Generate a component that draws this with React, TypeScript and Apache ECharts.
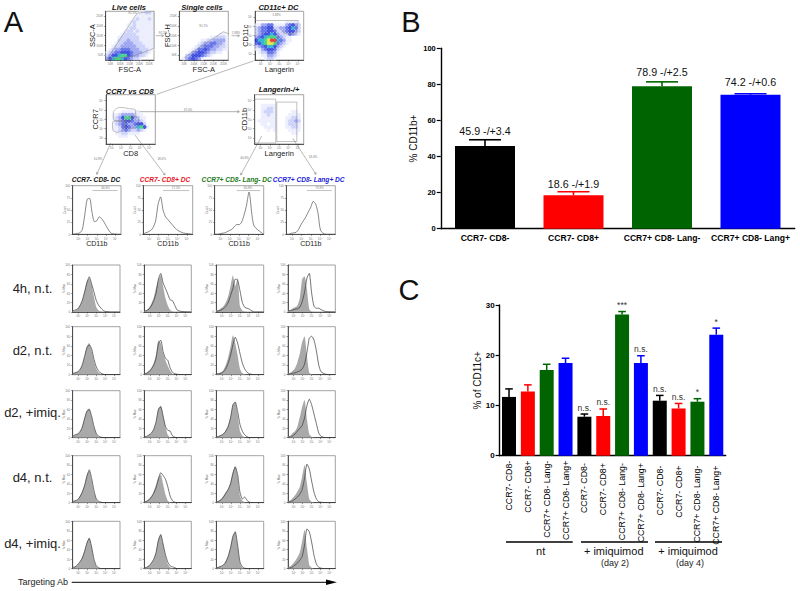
import React, { useEffect, useRef } from "react";
import * as echarts from "echarts";

/* ---------- data: panel B ---------- */
const catsB = ["CCR7- CD8-", "CCR7- CD8+", "CCR7+ CD8- Lang-", "CCR7+ CD8- Lang+"];
const valuesB = [45.9, 18.6, 78.9, 74.2];
const errTopB = [49.3, 20.5, 81.4, 74.8];
const labelsB = ["45.9 -/+3.4", "18.6 -/+1.9", "78.9 -/+2.5", "74.2 -/+0.6"];

/* ---------- data: panel C ---------- */
const catsC = [
  "CCR7- CD8-", "CCR7- CD8+", "CCR7+ CD8- Lang-", "CCR7+ CD8- Lang+",
  "CCR7- CD8- ", "CCR7- CD8+ ", "CCR7+ CD8- Lang- ", "CCR7+ CD8- Lang+ ",
  "CCR7- CD8-  ", "CCR7- CD8+  ", "CCR7+ CD8- Lang-  ", "CCR7+ CD8- Lang+  ",
];
const valuesC = [11.7, 12.8, 17.05, 18.45, 7.76, 7.9, 28.1, 18.45, 10.95, 9.4, 10.75, 24.1];
const errTopC = [13.3, 14.1, 18.2, 19.4, 8.3, 9.3, 28.7, 19.9, 12.0, 10.4, 11.35, 25.4];
const sigC = ["", "", "", "", "n.s.", "n.s.", "***", "n.s.", "n.s.", "n.s.", "*", "*"];
const barColors = ["#000000", "#ff0000", "#006400", "#0000ff"];

/* ---------- data: panel A density maps (rows top to bottom, digit = density level) ---------- */
const densityLive = [
  "0000000000011221", "0000000000111111", "0000000001211121", "0000000012111111",
  "0000000112111111", "0000000122111111", "0000001221211111", "0000012222111111",
  "0000122222211111", "0000222322211111", "0001223332221111", "0012233333222111",
  "0123344433322211", "1234455543332210", "2355677543322100", "3567765432210000",
];
const densitySingle = [
  "0000000000000000", "0000000000000000", "0000000000000000", "0000000000000000",
  "0000000000000000", "0000000000000000", "0000000000000000", "0000000000000110",
  "0000000000112221", "0000000112233331", "0000001233443321", "0000012344433221",
  "0000124454332211", "0001345543221100", "0023555432100000", "0134543100000000",
];
const densityCd11c = [
  "0000000000000000", "0000000000000000", "0000000000000000", "0000000000111100",
  "1133441111345320", "2344552233456420", "2344554223455320", "2345565322243210",
  "3456777432110000", "5667899643110000", "4567887432100000", "2345665321000000",
  "1134554210000000", "0122443100000000", "0011332100000000", "0001221000000000",
];
const densityCcr7 = [
  "0000000000000000", "0000000000000000", "0000000000000000", "0000000000000000",
  "0000000000000000", "0000011111100000", "0011233332110000", "0012357753211000",
  "0012345543321000", "0012344334552000", "0011245433675100", "0011234322321000",
  "0001122111100000", "0000111000000000", "0000000000000000", "0000000000000000",
];
const densityLang = [
  "0000000000000000", "0000000000000000", "0000000000000000", "0011111000000000",
  "0011221000000000", "0012221000001100", "0011211000011110", "0011111000112210",
  "0111111000122320", "0011011000122210", "0001111000112210", "0000101000011110",
  "0000000000001100", "0000000000000000", "0000000000000000", "0000000000000000",
];
const gateLive = [[2, 1], [65, 96], [100, 100], [100, 24], [57, 8], [2, 1]];
const gateSingle = [[10, 5], [90, 58], [100, 54]];
const gateCd11c = [[1, 81], [89, 81], [84, 53], [60, 55], [55, 62]];
const gateCcr7Top = [[15, 66], [28, 74], [45, 72], [60, 68], [58, 56], [42, 46], [22, 46], [15, 54], [15, 66]];
const gateCcr7Left = [[15, 46], [28, 48], [38, 40], [34, 28], [22, 24], [14, 30], [13, 40], [15, 46]];
const gateCcr7Right = [[38, 44], [52, 56], [66, 52], [65, 38], [50, 32], [38, 36], [38, 44]];
const gateLangLeft = [[0, 91], [43, 91], [43, 2], [0, 2], [0, 91]];
const gateLangRight = [[45, 85], [86, 85], [86, 5], [45, 5], [45, 85]];

/* ---------- data: panel A histograms ---------- */
const histX = [0, 5, 10, 15, 20, 25, 30, 35, 40, 45, 50, 55, 60, 65, 70, 80, 100];
const cd11bC1 = [0, 1, 2, 3, 10, 40, 72, 74, 45, 26, 28, 36, 32, 25, 16, 2, 0];
const cd11bC2 = [1, 3, 5, 8, 14, 28, 62, 77, 50, 36, 30, 24, 18, 12, 8, 3, 0];
const cd11bC3 = [0, 0, 1, 2, 3, 5, 8, 10, 16, 20, 20, 25, 40, 60, 87, 18, 0];
const cd11bC4 = [0, 0, 2, 3, 4, 10, 20, 28, 36, 46, 56, 68, 62, 42, 8, 0, 0];
const cd11bGateC1 = [[41, 90], [93, 90]];
const cd11bGateC2 = [[40, 90], [93, 90]];
const cd11bGateC3 = [[45, 90], [93, 90]];
const cd11bGateC4 = [[42, 90], [93, 90]];

const fill4hC1 = [2, 3, 6, 14, 24, 44, 66, 72, 58, 32, 10, 3, 1, 0, 0, 0, 0];
const line4hC1 = [3, 4, 6, 13, 24, 42, 62, 75, 60, 42, 24, 14, 8, 3, 1, 0, 0];
const fill4hC2 = [2, 4, 9, 18, 30, 52, 68, 78, 55, 30, 14, 4, 1, 0, 0, 0, 0];
const line4hC2 = [2, 3, 6, 13, 24, 40, 70, 82, 62, 50, 38, 26, 24, 14, 4, 1, 0];
const fill4hC3 = [4, 5, 8, 12, 20, 33, 55, 78, 55, 72, 12, 3, 1, 0, 0, 0, 0];
const line4hC3 = [2, 2, 4, 7, 12, 20, 35, 50, 70, 68, 45, 20, 10, 8, 6, 0, 0];
const fill4hC4 = [3, 4, 8, 10, 14, 30, 70, 76, 48, 6, 1, 0, 0, 0, 0, 0, 0];
const line4hC4 = [2, 3, 4, 6, 7, 10, 22, 42, 72, 82, 40, 12, 8, 8, 5, 1, 0];

const fillD2nC1 = [3, 4, 6, 10, 20, 38, 60, 66, 50, 28, 12, 4, 1, 0, 0, 0, 0];
const lineD2nC1 = [3, 4, 6, 10, 20, 38, 56, 62, 54, 32, 16, 7, 3, 1, 0, 0, 0];
const fillD2nC2 = [2, 4, 8, 14, 24, 42, 72, 66, 44, 30, 18, 8, 2, 0, 0, 0, 0];
const lineD2nC2 = [2, 3, 6, 12, 20, 34, 64, 72, 48, 34, 30, 14, 5, 2, 1, 0, 0];
const fillD2nC3 = [2, 3, 5, 10, 20, 36, 58, 82, 66, 40, 12, 3, 1, 0, 0, 0, 0];
const lineD2nC3 = [2, 2, 3, 6, 12, 24, 40, 62, 78, 66, 44, 24, 12, 5, 2, 0, 0];
const fillD2nC4 = [2, 4, 8, 14, 26, 44, 68, 80, 40, 4, 1, 0, 0, 0, 0, 0, 0];
const lineD2nC4 = [1, 2, 3, 4, 6, 8, 12, 22, 46, 76, 80, 72, 50, 20, 6, 1, 0];

const fillD2iC1 = [3, 6, 8, 12, 24, 42, 58, 62, 44, 22, 8, 2, 0, 0, 0, 0, 0];
const lineD2iC1 = [3, 6, 8, 12, 22, 40, 56, 60, 46, 24, 9, 3, 1, 0, 0, 0, 0];
const fillD2iC2 = [2, 3, 6, 10, 18, 34, 62, 68, 48, 24, 6, 1, 0, 0, 0, 0, 0];
const lineD2iC2 = [2, 3, 6, 10, 18, 34, 60, 66, 46, 24, 16, 14, 4, 1, 0, 0, 0];
const fillD2iC3 = [2, 3, 5, 9, 16, 26, 44, 70, 76, 50, 14, 4, 1, 0, 0, 0, 0];
const lineD2iC3 = [2, 3, 5, 8, 14, 24, 42, 70, 76, 56, 28, 14, 6, 2, 0, 0, 0];
const fillD2iC4 = [2, 4, 10, 14, 24, 44, 66, 80, 40, 8, 2, 0, 0, 0, 0, 0, 0];
const lineD2iC4 = [1, 2, 4, 8, 14, 20, 26, 42, 68, 82, 70, 50, 30, 10, 3, 0, 0];

const fillD4nC1 = [3, 4, 6, 14, 24, 38, 60, 68, 48, 22, 7, 2, 0, 0, 0, 0, 0];
const lineD4nC1 = [3, 4, 6, 12, 22, 36, 56, 70, 52, 26, 8, 3, 1, 0, 0, 0, 0];
const fillD4nC2 = [2, 4, 8, 14, 24, 38, 54, 60, 40, 18, 4, 1, 0, 0, 0, 0, 0];
const lineD4nC2 = [2, 3, 6, 12, 20, 32, 50, 64, 58, 50, 34, 14, 4, 1, 0, 0, 0];
const fillD4nC3 = [2, 4, 8, 14, 22, 30, 44, 66, 78, 56, 14, 4, 1, 0, 0, 0, 0];
const lineD4nC3 = [2, 3, 6, 12, 20, 28, 40, 62, 76, 60, 22, 8, 12, 5, 1, 0, 0];
const fillD4nC4 = [2, 5, 10, 16, 24, 34, 56, 80, 42, 8, 2, 0, 0, 0, 0, 0, 0];
const lineD4nC4 = [1, 2, 4, 8, 12, 18, 28, 52, 82, 72, 46, 22, 8, 2, 1, 0, 0];

const fillD4iC1 = [3, 4, 8, 14, 24, 38, 56, 66, 46, 18, 5, 1, 0, 0, 0, 0, 0];
const lineD4iC1 = [3, 4, 8, 14, 22, 36, 54, 64, 46, 20, 6, 2, 0, 0, 0, 0, 0];
const fillD4iC2 = [2, 3, 6, 12, 20, 36, 62, 72, 52, 28, 10, 3, 1, 0, 0, 0, 0];
const lineD4iC2 = [2, 3, 6, 12, 20, 34, 60, 72, 52, 30, 14, 6, 4, 2, 0, 0, 0];
const fillD4iC3 = [2, 4, 5, 8, 16, 28, 46, 70, 78, 48, 12, 2, 0, 0, 0, 0, 0];
const lineD4iC3 = [2, 3, 5, 8, 14, 26, 44, 68, 78, 50, 14, 4, 1, 0, 0, 0, 0];
const fillD4iC4 = [2, 5, 10, 16, 24, 34, 58, 82, 44, 8, 2, 0, 0, 0, 0, 0, 0];
const lineD4iC4 = [1, 2, 4, 8, 12, 18, 26, 50, 84, 78, 56, 28, 10, 3, 1, 0, 0];

const rowLabels = ["4h, n.t.", "d2, n.t.", "d2, +imiq.", "d4, n.t.", "d4, +imiq."];
const colTitles = ["CCR7- CD8- DC", "CCR7- CD8+ DC", "CCR7+ CD8- Lang- DC", "CCR7+ CD8- Lang+ DC"];
const colTitleColors = ["#111111", "#e8141c", "#1a7a1a", "#2222dd"];
const cd11bPct = ["46.6%", "17.5%", "80.8%", "73.9%"];
const logTickValues = [12, 31, 50, 69, 88];
const logTickLabels = ["10¹", "10²", "10³", "10⁴", "10⁵"];
const scaleTickValues = [10, 30, 50, 70, 90];
const scaleTickLabels = ["50K", "100K", "150K", "200K", "250K"];

/* ---------- styling ---------- */
const densityPalette = ["", "#e8ebfc", "#c4cbf7", "#8e99ef", "#4c5de4", "#1f30d8", "#12a6d0", "#28d070", "#e6e030", "#e02020"];
const FONT = '"Liberation Sans", Arial, sans-serif';
const histFill = "#a9a9a9";
const histLine = "#3a3a3a";

type Box = { l: number; r: number; t: number; b: number };

function App() {
  const ref = useRef<HTMLDivElement>(null);
  useEffect(() => {
    document.body.style.margin = "0";
    const chart = echarts.init(ref.current!, undefined, { renderer: "svg" });
    const grid: any[] = [];
    const xAxis: any[] = [];
    const yAxis: any[] = [];
    const series: any[] = [];
    const graphic: any[] = [];

    const addGrid = (b: Box, borderColor = "#8c8c8c") => {
      grid.push({
        left: b.l, top: b.t, width: b.r - b.l, height: b.b - b.t,
        show: true, borderColor, borderWidth: 0.8, backgroundColor: "transparent",
      });
      return grid.length - 1;
    };
    const miniAxis = (gridIndex: number, vals: number[], labels: string[], name: string, extra: any = {}) => ({
      gridIndex, type: "value", min: 0, max: 100, splitLine: { show: false },
      axisLine: { onZero: false, lineStyle: { color: "#333", width: 0.8 } },
      axisTick: { customValues: vals, length: 1.5, lineStyle: { color: "#333", width: 0.5 } },
      axisLabel: {
        customValues: vals, fontSize: 3, margin: 2.5, color: "#777", fontFamily: FONT, hideOverlap: false,
        formatter: (v: number) => labels[vals.indexOf(v)] ?? "",
      },
      name, nameLocation: "middle", nameMoveOverlap: false, ...extra,
    });
    const addGate = (gi: number, pts: number[][], smooth = false, color = "#808080") =>
      series.push({
        type: "line", xAxisIndex: gi, yAxisIndex: gi, data: pts, showSymbol: false, symbol: "none", silent: true,
        smooth, lineStyle: { color, width: 0.5 }, z: 5, clip: false,
      });

    /* dense flow plots */
    const addDensity = (
      b: Box, rows: string[], gates: number[][][], xName: string, yName: string, smoothGate: boolean,
      xLinear: boolean, yLinear: boolean, xGap: number, yGap: number,
    ) => {
      const gi = addGrid(b);
      xAxis.push(miniAxis(gi, xLinear ? scaleTickValues : logTickValues, xLinear ? scaleTickLabels : logTickLabels, xName, {
        nameGap: xGap, nameTextStyle: { fontSize: 7.5, color: "#222", fontFamily: FONT },
      }));
      yAxis.push(miniAxis(gi, yLinear ? scaleTickValues : logTickValues, yLinear ? scaleTickLabels : logTickLabels, yName, {
        nameGap: yGap, nameRotate: 90, nameTextStyle: { fontSize: 7.5, color: "#222", fontFamily: FONT },
      }));
      const pts: number[][] = [];
      rows.forEach((row, r) =>
        row.split("").forEach((ch, c) => {
          const level = Number(ch);
          if (level > 0) pts.push([(c + 0.5) * 6.25, (15.5 - r) * 6.25, level]);
        }),
      );
      pts.sort((p, q) => p[2] - q[2]);
      series.push({
        type: "scatter", xAxisIndex: gi, yAxisIndex: gi, data: pts, symbol: "circle", symbolSize: 3.9, silent: true,
        itemStyle: { opacity: 0.8, color: (p: any) => densityPalette[p.value[2]] },
      });
      gates.forEach((g) => addGate(gi, g, smoothGate));
    };
    addDensity({ l: 105.7, r: 154, t: 11.3, b: 60 }, densityLive, [gateLive], "FSC-A", "SSC-A", false, true, true, 5.6, 9);
    addDensity({ l: 179.3, r: 228.3, t: 11.3, b: 60 }, densitySingle, [gateSingle], "FSC-A", "FSC-H", false, true, true, 5.6, 8);
    addDensity({ l: 255, r: 303.7, t: 11.3, b: 60 }, densityCd11c, [gateCd11c], "Langerin", "CD11c", false, false, false, 5.6, 6);
    addDensity({ l: 106, r: 155.3, t: 94.7, b: 144 }, densityCcr7, [gateCcr7Top, gateCcr7Left, gateCcr7Right], "CD8", "CCR7", true, false, false, 5.6, 7);
    addDensity({ l: 254.7, r: 303.7, t: 94.7, b: 144 }, densityLang, [gateLangLeft, gateLangRight], "Langerin", "CD11b", false, false, false, 5.6, 6);

    /* histograms */
    const seq = (a: number[]) => a.map((v, i) => [histX[i], v]);
    const colsTop: [number, number][] = [[72.7, 121], [143.3, 192.7], [214.7, 263.7], [286.3, 335.3]];
    const cd11b = [cd11bC1, cd11bC2, cd11bC3, cd11bC4];
    const cd11bGates = [cd11bGateC1, cd11bGateC2, cd11bGateC3, cd11bGateC4];
    colsTop.forEach(([l, r], i) => {
      const gi = addGrid({ l, r, t: 185.7, b: 234.3 });
      xAxis.push(miniAxis(gi, logTickValues, logTickLabels, "CD11b", {
        nameGap: 6, nameTextStyle: { fontSize: 7, color: "#222", fontFamily: FONT },
      }));
      yAxis.push(miniAxis(gi, [0, 25, 50, 75, 100], ["0", "25", "50", "75", "100"], "Count", {
        nameGap: 7, nameRotate: 90, nameTextStyle: { fontSize: 3, color: "#777", fontFamily: FONT },
      }));
      series.push({
        type: "line", xAxisIndex: gi, yAxisIndex: gi, data: seq(cd11b[i]), smooth: 0.25, symbol: "none", silent: true,
        lineStyle: { color: "#555", width: 0.7 },
      });
      addGate(gi, cd11bGates[i]);
    });

    const rowsY: [number, number][] = [[265, 312], [326.7, 374.7], [390.7, 437.7], [455.7, 502.7], [521.3, 568.7]];
    const colsX: [number, number][] = [[72.7, 120], [144.3, 191.3], [216.3, 263.7], [288, 335.3]];
    const fills = [
      [fill4hC1, fill4hC2, fill4hC3, fill4hC4],
      [fillD2nC1, fillD2nC2, fillD2nC3, fillD2nC4],
      [fillD2iC1, fillD2iC2, fillD2iC3, fillD2iC4],
      [fillD4nC1, fillD4nC2, fillD4nC3, fillD4nC4],
      [fillD4iC1, fillD4iC2, fillD4iC3, fillD4iC4],
    ];
    const lines = [
      [line4hC1, line4hC2, line4hC3, line4hC4],
      [lineD2nC1, lineD2nC2, lineD2nC3, lineD2nC4],
      [lineD2iC1, lineD2iC2, lineD2iC3, lineD2iC4],
      [lineD4nC1, lineD4nC2, lineD4nC3, lineD4nC4],
      [lineD4iC1, lineD4iC2, lineD4iC3, lineD4iC4],
    ];
    rowsY.forEach(([t, b], ri) =>
      colsX.forEach(([l, r], ci) => {
        const gi = addGrid({ l, r, t, b });
        xAxis.push(miniAxis(gi, logTickValues, logTickLabels, ""));
        yAxis.push(miniAxis(gi, [0, 20, 40, 60, 80, 100], ["0", "20", "40", "60", "80", "100"], "% Max", {
          nameGap: 8, nameRotate: 90, nameTextStyle: { fontSize: 3, color: "#777", fontFamily: FONT },
        }));
        series.push({
          type: "line", xAxisIndex: gi, yAxisIndex: gi, data: seq(fills[ri][ci]), smooth: 0.2, symbol: "none", silent: true,
          lineStyle: { width: 0 }, areaStyle: { color: histFill, opacity: 1 },
        });
        series.push({
          type: "line", xAxisIndex: gi, yAxisIndex: gi, data: seq(lines[ri][ci]), smooth: 0.2, symbol: "none", silent: true,
          lineStyle: { color: histLine, width: 0.7 },
        });
      }),
    );

    /* panel B */
    const mainAxisLine = { onZero: false, lineStyle: { color: "#000", width: 1.4 } };
    const giB = grid.length;
    grid.push({ left: 440.75, top: 48.3, width: 354, height: 180.4 });
    xAxis.push({
      gridIndex: giB, type: "category", data: catsB, axisLine: mainAxisLine,
      axisTick: { alignWithLabel: true, length: 2, lineStyle: { color: "#000", width: 1 } },
      axisLabel: { fontFamily: FONT, fontSize: 8.6, fontWeight: "bold", color: "#000", margin: 4.5, interval: 0 },
    });
    yAxis.push({
      gridIndex: giB, type: "value", min: 0, max: 100, interval: 20, splitLine: { show: false },
      axisLine: { show: true, ...mainAxisLine }, axisTick: { show: true, length: 4, lineStyle: { color: "#000", width: 1.2 } },
      axisLabel: { fontFamily: FONT, fontSize: 7.5, fontWeight: "bold", color: "#000", margin: 5 },
      name: "% CD11b+", nameLocation: "middle", nameGap: 22.5, nameRotate: 90, nameMoveOverlap: false,
      nameTextStyle: { fontFamily: FONT, fontSize: 10, color: "#111" },
    });
    series.push({
      type: "bar", xAxisIndex: giB, yAxisIndex: giB, barWidth: 60, silent: true,
      data: valuesB.map((v, i) => ({ value: v, itemStyle: { color: barColors[i] } })),
    });
    const labelLiftB = [8.5, 8, 10, 12];
    series.push({
      type: "custom", xAxisIndex: giB, yAxisIndex: giB, silent: true, clip: false, z: 4,
      data: valuesB.map((v, i) => [i, v, errTopB[i]]),
      encode: { x: 0, y: 1 },
      renderItem: (_: any, api: any) => {
        const i = api.value(0);
        const [x, y0] = api.coord([i, api.value(1)]);
        const [, y1] = api.coord([i, api.value(2)]);
        const stroke = barColors[i];
        return {
          type: "group",
          children: [
            { type: "line", shape: { x1: x, y1: y0, x2: x, y2: y1 }, style: { stroke, lineWidth: 1.6 } },
            { type: "line", shape: { x1: x - 16, y1, x2: x + 16, y2: y1 }, style: { stroke, lineWidth: 1.6 } },
            {
              type: "text", x, y: y1 - labelLiftB[i],
              style: { text: labelsB[i], fontFamily: FONT, fontSize: 10.7, fill: "#111", align: "center", verticalAlign: "middle" },
            },
          ],
        };
      },
    });

    /* panel C */
    const giC = grid.length;
    grid.push({ left: 499.6, top: 305, width: 226.1, height: 150.7 });
    xAxis.push({
      gridIndex: giC, type: "category", data: catsC, axisLine: mainAxisLine,
      axisTick: { alignWithLabel: true, length: 3, lineStyle: { color: "#000", width: 1 } },
      axisLabel: { fontFamily: FONT, fontSize: 8.8, color: "#000", margin: 5, interval: 0, rotate: 90 },
    });
    yAxis.push({
      gridIndex: giC, type: "value", min: 0, max: 30, interval: 10, splitLine: { show: false },
      axisLine: { show: true, ...mainAxisLine }, axisTick: { show: true, length: 4, lineStyle: { color: "#000", width: 1.2 } },
      axisLabel: { fontFamily: FONT, fontSize: 8, fontWeight: "bold", color: "#000", margin: 5 },
      name: "% of CD11c+", nameLocation: "middle", nameGap: 17, nameRotate: 90, nameMoveOverlap: false,
      nameTextStyle: { fontFamily: FONT, fontSize: 10, color: "#111" },
    });
    series.push({
      type: "bar", xAxisIndex: giC, yAxisIndex: giC, barWidth: 14, silent: true,
      data: valuesC.map((v, i) => ({ value: v, itemStyle: { color: barColors[i % 4] } })),
    });
    series.push({
      type: "custom", xAxisIndex: giC, yAxisIndex: giC, silent: true, clip: false, z: 4,
      data: valuesC.map((v, i) => [i, v, errTopC[i]]),
      encode: { x: 0, y: 1 },
      renderItem: (_: any, api: any) => {
        const i = api.value(0);
        const [x, y0] = api.coord([i, api.value(1)]);
        const [, y1] = api.coord([i, api.value(2)]);
        const stroke = barColors[i % 4];
        const children: any[] = [
          { type: "line", shape: { x1: x, y1: y0, x2: x, y2: y1 }, style: { stroke, lineWidth: 1.5 } },
          { type: "line", shape: { x1: x - 3.8, y1, x2: x + 3.8, y2: y1 }, style: { stroke, lineWidth: 1.5 } },
        ];
        if (sigC[i]) {
          children.push({
            type: "text", x, y: y1 - 6.5,
            style: { text: sigC[i], fontFamily: FONT, fontSize: 8.5, fill: "#333", align: "center", verticalAlign: "middle" },
          });
        }
        return { type: "group", children };
      },
    });

    /* annotations */
    const txt = (text: string, x: number, y: number, fontSize: number, o: any = {}) => {
      const { rotation, fill, ...style } = o;
      graphic.push({
        type: "text", x, y, rotation: rotation ?? 0, silent: true,
        style: { text, fontFamily: FONT, fontSize, fill: fill ?? "#111", align: "center", verticalAlign: "middle", ...style },
      });
    };
    const arrow = (x1: number, y1: number, x2: number, y2: number, stroke = "#8a8a8a", w = 0.6, head = 2.4) => {
      graphic.push({ type: "line", silent: true, shape: { x1, y1, x2, y2 }, style: { stroke, lineWidth: w } });
      if (head > 0) {
        const a = Math.atan2(y2 - y1, x2 - x1);
        const h = head;
        const p = (ang: number) => [x2 - h * Math.cos(a + ang), y2 - h * Math.sin(a + ang)];
        graphic.push({
          type: "polyline", silent: true,
          shape: { points: [p(0.55), [x2, y2], p(-0.55)] },
          style: { stroke, lineWidth: w, fill: "none" },
        });
      }
    };

    txt("A", 13.3, 22, 29);
    txt("B", 411, 22, 29);
    txt("C", 409, 290, 29);

    const tIt = { fontWeight: "bold", fontStyle: "italic" };
    txt("Live cells", 129, 7.5, 7.5, tIt);
    txt("Single cells", 202, 7, 7.5, tIt);
    txt("CD11c+ DC", 278.5, 7.5, 7.5, tIt);
    txt("CCR7 vs CD8", 129.7, 91, 7.5, tIt);
    txt("Langerin-/+", 279, 89.5, 7.5, tIt);

    colTitles.forEach((t, i) => txt(t, [96, 165, 236.7, 308.7][i], 179, 6.6, { ...tIt, fill: colTitleColors[i] }));
    rowLabels.forEach((t, i) => txt(t, 32.5, [288, 350.7, 412, 477.3, 543.3][i], 13, { fill: "#222" }));

    /* tiny gate percentages */
    const tiny = { fill: "#777" };
    txt("91.5%", 132.5, 12.5, 3, tiny);
    txt("91.1%", 203.5, 26, 3, tiny);
    txt("1.88%", 276.5, 15, 3, tiny);
    txt("37.0%", 188, 110, 3, tiny);
    txt("10.9%", 98, 159, 3, tiny);
    txt("18.6%", 161.7, 158.3, 3, tiny);
    txt("40.6%", 244.5, 157.7, 3, tiny);
    txt("59.4%", 313, 156.7, 3, tiny);
    txt("91.5%", 163, 32.5, 3, tiny);
    txt("1.88%", 236, 32.5, 3, tiny);
    cd11bPct.forEach((t, i) => txt(t, [105.5, 176, 248, 319.5][i], 187.5, 3, tiny));

    /* connectors */
    arrow(155.7, 35.7, 163.5, 35.7);
    arrow(231.5, 35.7, 239.5, 35.7);
    arrow(253.3, 61, 156.7, 94.3, "#8a8a8a", 0.6, 0);
    arrow(136, 111.7, 239.3, 111.7, "#8a8a8a", 0.7);
    arrow(110.7, 143.3, 96.7, 174.3);
    arrow(135, 135, 165, 175);
    arrow(261.7, 136, 240.7, 175);
    arrow(292.7, 138.3, 316, 174.3);

    /* group lines and labels of panel C */
    [[506, 572.7], [581, 648], [655, 722]].forEach(([x1, x2]) =>
      graphic.push({ type: "line", silent: true, shape: { x1, y1: 542, x2, y2: 542 }, style: { stroke: "#000", lineWidth: 1.3 } }),
    );
    txt("nt", 540.7, 550.5, 11);
    txt("+ imiquimod", 613.7, 550.5, 11);
    txt("(day 2)", 615, 563, 9, { fill: "#222" });
    txt("+ imiquimod", 688, 550.5, 11);
    txt("(day 4)", 690, 563, 9, { fill: "#222" });

    /* bottom arrow */
    txt("Targeting Ab", 43, 581.5, 9, { fill: "#222" });
    graphic.push({ type: "line", silent: true, shape: { x1: 71.7, y1: 582.3, x2: 328, y2: 582.3 }, style: { stroke: "#000", lineWidth: 1 } });
    graphic.push({
      type: "polygon", silent: true,
      shape: { points: [[326, 579.5], [337, 582.3], [326, 585]] },
      style: { fill: "#000" },
    });

    chart.setOption({ animation: false, backgroundColor: "#fff", grid, xAxis, yAxis, series, graphic });
    return () => chart.dispose();
  }, []);
  return <div ref={ref} style={{ width: 800, height: 591 }} />;
}

export default App;
